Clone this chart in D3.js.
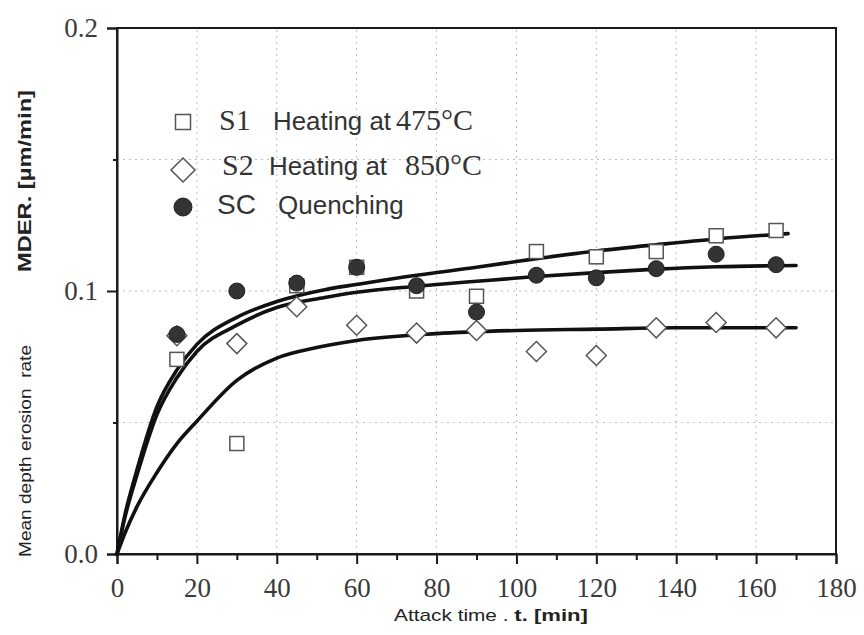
<!DOCTYPE html>
<html>
<head>
<meta charset="utf-8">
<script src="https://cdn.jsdelivr.net/npm/d3@7"></script>
<style>
  body { margin: 0; background: #fff; }
  svg { display: block; }
</style>
</head>
<body>
<svg id="chart" width="864" height="635"></svg>
<script>
const SERIF = '"Liberation Serif", "Times New Roman", serif';
const SANS = '"Liberation Sans", Arial, sans-serif';

// measured points
const times = [15, 30, 45, 60, 75, 90, 105, 120, 135, 150, 165];
const s1Values = [0.074, 0.042, 0.102, 0.109, 0.100, 0.098, 0.115, 0.113, 0.115, 0.121, 0.123];
const s2Values = [0.083, 0.080, 0.094, 0.087, 0.084, 0.085, 0.077, 0.0755, 0.086, 0.088, 0.086];
const scValues = [0.0835, 0.100, 0.103, 0.109, 0.102, 0.092, 0.106, 0.105, 0.1085, 0.114, 0.110];

// fitted curves
const fitTimesS1 = [0, 2, 5, 10, 15, 20, 30, 40, 52, 60, 75, 90, 105, 120, 135, 150, 168];
const fitS1 = [0, 0.015, 0.032, 0.056, 0.070, 0.0797, 0.090, 0.096, 0.1005, 0.1025, 0.106, 0.109, 0.1123, 0.1152, 0.1176, 0.1198, 0.1218];
const fitTimesSC = [0, 2, 5, 10, 15, 20, 30, 40, 52, 60, 75, 90, 105, 120, 135, 150, 170];
const fitSC = [0, 0.014, 0.030, 0.053, 0.067, 0.077, 0.087, 0.0937, 0.0975, 0.0995, 0.1018, 0.1037, 0.1055, 0.107, 0.1083, 0.1092, 0.1097];
const fitTimesS2 = [0, 2, 5, 10, 15, 20, 30, 40, 50, 60, 80, 100, 120, 140, 170];
const fitS2 = [0, 0.008, 0.018, 0.031, 0.042, 0.0505, 0.066, 0.0745, 0.0785, 0.0812, 0.0838, 0.085, 0.0855, 0.086, 0.086];

const xTicks = [0, 20, 40, 60, 80, 100, 120, 140, 160, 180];
const xMinorTicks = [10, 30, 50, 70, 90, 110, 130, 150, 170];
const yTicks = [0, 0.1, 0.2];
const yMinorTicks = [0.05, 0.15];
const gridY = [0.05, 0.1, 0.15];

const legendItems = [
  { key: "S1", label: "Heating at", temp: "475\u00B0C", symbol: "square" },
  { key: "S2", label: "Heating at", temp: "850\u00B0C", symbol: "diamond" },
  { key: "SC", label: "Quenching", temp: "", symbol: "circle" }
];

const margin = { left: 117, right: 28, top: 28, bottom: 81 };
const width = 864, height = 635;

const svg = d3.select("#chart");

const x = d3.scaleLinear().domain([0, 180]).range([margin.left, width - margin.right]);
const y = d3.scaleLinear().domain([0, 0.2]).range([height - margin.bottom, margin.top]);

const ink = "#1a1a1a";
const markerStroke = "#555";

// grid
const grid = svg.append("g").attr("stroke", "#bdbdbd").attr("stroke-width", 1).attr("stroke-dasharray", "2,4");
grid.selectAll("line.v")
  .data(xTicks.slice(1, -1))
  .join("line")
  .attr("x1", d => x(d)).attr("x2", d => x(d))
  .attr("y1", y(0)).attr("y2", y(0.2));
grid.selectAll("line.h")
  .data(gridY)
  .join("line")
  .attr("x1", x(0)).attr("x2", x(180))
  .attr("y1", d => y(d)).attr("y2", d => y(d));

// frame
svg.append("rect")
  .attr("x", x(0)).attr("y", y(0.2))
  .attr("width", x(180) - x(0)).attr("height", y(0) - y(0.2))
  .attr("fill", "none").attr("stroke", ink).attr("stroke-width", 2);

// axes
const xAxis = svg.append("g")
  .attr("transform", `translate(0,${y(0)})`)
  .call(d3.axisBottom(x).tickValues(xTicks).tickSize(10).tickPadding(17).tickFormat(d3.format("d")));
svg.append("g")
  .attr("transform", `translate(0,${y(0)})`)
  .call(d3.axisBottom(x).tickValues(xMinorTicks).tickSize(6).tickFormat(""))
  .call(g => g.select(".domain").remove());

const yAxis = svg.append("g")
  .attr("transform", `translate(${x(0)},0)`)
  .call(d3.axisLeft(y).tickValues(yTicks).tickSize(10).tickPadding(9).tickFormat(d3.format(".1f")));
svg.append("g")
  .attr("transform", `translate(${x(0)},0)`)
  .call(d3.axisLeft(y).tickValues(yMinorTicks).tickSize(4).tickFormat(""))
  .call(g => g.select(".domain").remove());

svg.selectAll(".domain").attr("stroke", ink).attr("stroke-width", 2);
svg.selectAll(".tick line").attr("stroke", ink).attr("stroke-width", 2);
[xAxis, yAxis].forEach(a => {
  a.attr("font-family", SERIF).attr("font-size", 27);
  a.selectAll("text")
    .style("font-family", SERIF)
    .style("font-size", "27px")
    .attr("fill", "#3a3a3a");
});
xAxis.selectAll("text").attr("dy", "0.6em");

// fitted curves
const line = d3.line().x(d => x(d[0])).y(d => y(d[1])).curve(d3.curveMonotoneX);
const fits = [
  d3.zip(fitTimesS1, fitS1),
  d3.zip(fitTimesSC, fitSC),
  d3.zip(fitTimesS2, fitS2)
];
svg.append("g")
  .selectAll("path")
  .data(fits)
  .join("path")
  .attr("d", line)
  .attr("fill", "none")
  .attr("stroke", "#111")
  .attr("stroke-width", 3.6)
  .attr("stroke-linecap", "round");

// markers
function drawSymbol(g, type, cx, cy, size) {
  if (type === "square") {
    g.append("rect")
      .attr("x", cx - size / 2).attr("y", cy - size / 2)
      .attr("width", size).attr("height", size)
      .attr("fill", "#fff").attr("stroke", markerStroke).attr("stroke-width", 1.5);
  } else if (type === "diamond") {
    g.append("path")
      .attr("d", `M${cx},${cy - size}L${cx + size},${cy}L${cx},${cy + size}L${cx - size},${cy}Z`)
      .attr("fill", "#fff").attr("stroke", markerStroke).attr("stroke-width", 1.5);
  } else {
    g.append("circle")
      .attr("cx", cx).attr("cy", cy).attr("r", size)
      .attr("fill", "#333").attr("stroke", "#222").attr("stroke-width", 1);
  }
}

const marks = svg.append("g");
[
  { values: s1Values, symbol: "square", size: 14 },
  { values: s2Values, symbol: "diamond", size: 10 },
  { values: scValues, symbol: "circle", size: 8 }
].forEach(s => {
  times.forEach((t, i) => drawSymbol(marks, s.symbol, x(t), y(s.values[i]), s.size));
});

// legend
const legend = svg.append("g");
const symbolY = [122, 170, 207];
const baseY = [130, 175, 214];
const symbolSize = [15, 12, 9];
legendItems.forEach((d, i) => {
  drawSymbol(legend, d.symbol, 183, symbolY[i], symbolSize[i]);
  const base = baseY[i];
  if (d.symbol === "circle") {
    legend.append("text").attr("x", 217).attr("y", base)
      .style("font-family", SANS).style("font-size", "28px").attr("fill", "#333").text(d.key);
    legend.append("text").attr("x", 278).attr("y", base)
      .style("font-family", SANS).style("font-size", "26px").attr("fill", "#333").text(d.label);
  } else {
    const kx = i === 0 ? 219 : 222;
    const lx = i === 0 ? 273 : 269;
    const tx = i === 0 ? 396 : 405;
    legend.append("text").attr("x", kx).attr("y", base)
      .style("font-family", SERIF).style("font-size", "30px").attr("fill", "#333").text(d.key);
    legend.append("text").attr("x", lx).attr("y", base)
      .attr("textLength", 118).attr("lengthAdjust", "spacingAndGlyphs")
      .style("font-family", SANS).style("font-size", "25px").attr("fill", "#333").text(d.label);
    legend.append("text").attr("x", tx).attr("y", base)
      .style("font-family", SERIF).style("font-size", "30px").attr("fill", "#333").text(d.temp);
  }
});

// axis titles
const xTitle = svg.append("text")
  .attr("transform", "translate(491,621) scale(1.3,1)")
  .attr("text-anchor", "middle")
  .style("font-family", SANS)
  .style("font-size", "16px")
  .attr("fill", "#222");
xTitle.append("tspan").text("Attack time . ");
xTitle.append("tspan").attr("font-weight", "bold").style("font-size", "17px").text("t. [min]");

svg.append("text")
  .attr("transform", "translate(31,451) rotate(-90)")
  .attr("text-anchor", "middle")
  .attr("textLength", 212)
  .attr("lengthAdjust", "spacingAndGlyphs")
  .style("font-family", SANS)
  .style("font-size", "17px")
  .style("white-space", "pre")
  .attr("fill", "#222")
  .text("Mean depth erosion  rate");

svg.append("text")
  .attr("transform", "translate(31,181) rotate(-90)")
  .attr("text-anchor", "middle")
  .attr("textLength", 182)
  .attr("lengthAdjust", "spacingAndGlyphs")
  .style("font-family", SANS)
  .style("font-size", "19px")
  .attr("font-weight", "bold")
  .attr("fill", "#222")
  .text("MDER. [\u00B5m/min]");
</script>
</body>
</html>
